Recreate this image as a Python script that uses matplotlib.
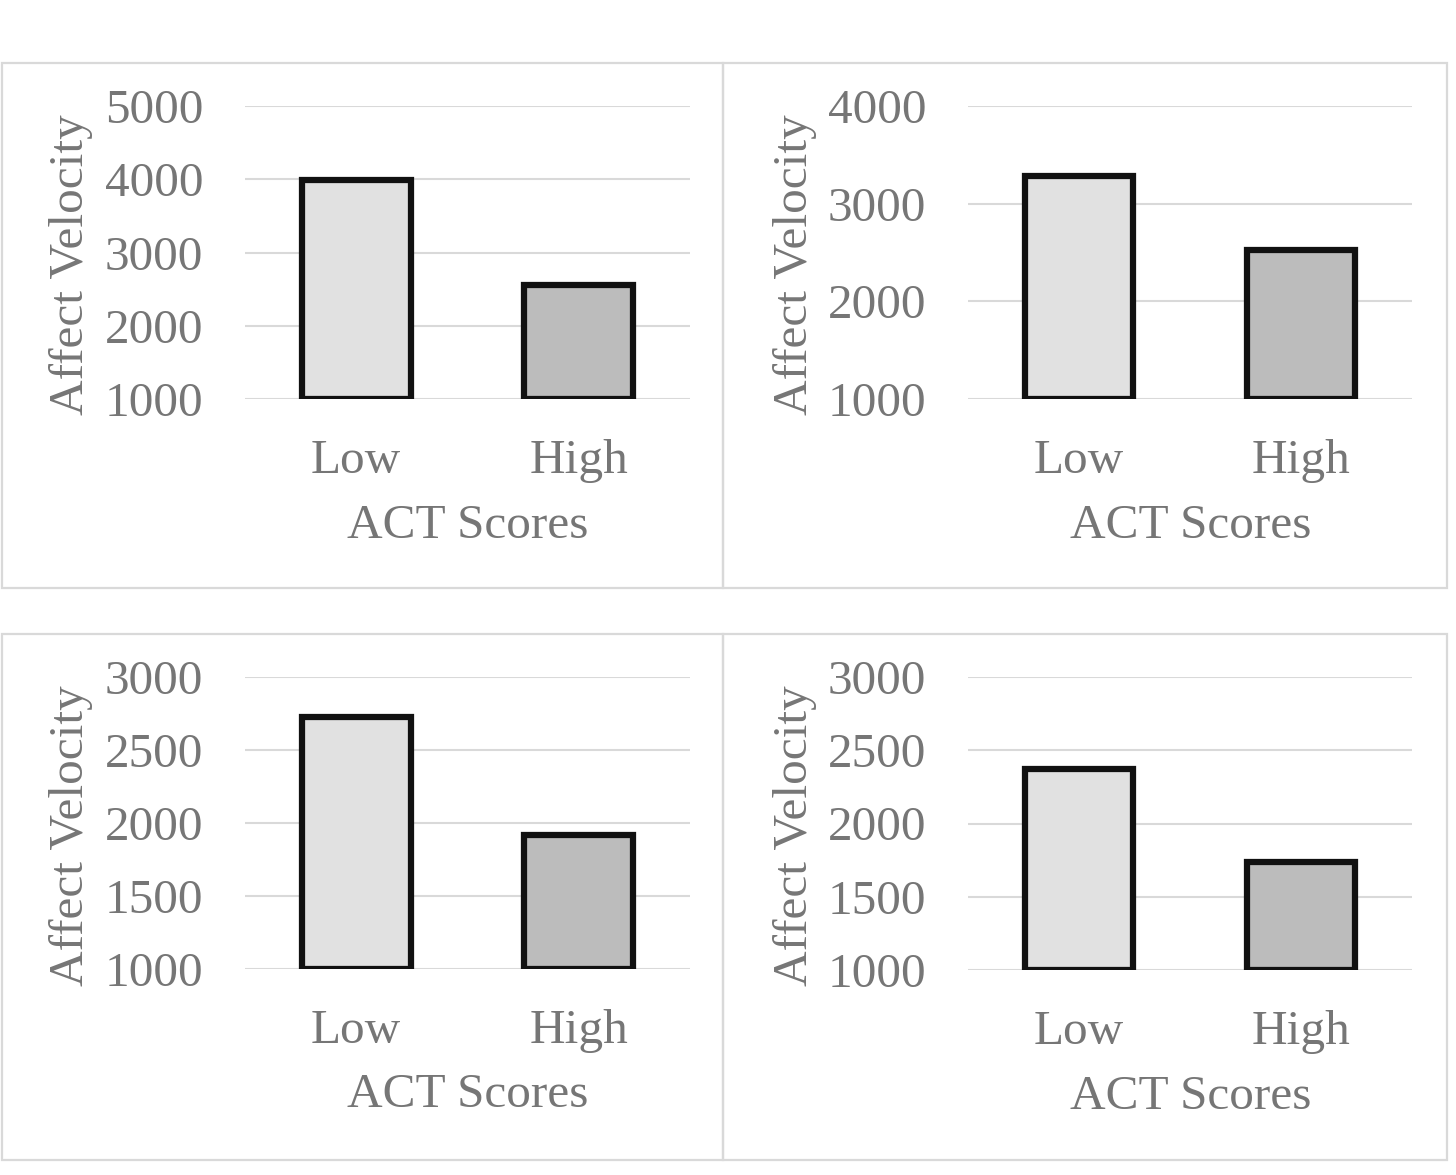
import matplotlib.pyplot as plt
from matplotlib.patches import Rectangle

categories = ["Low", "High"]
panel_values = [
    [3990, 2550],
    [3280, 2530],
    [2725, 1920],
    [2370, 1735],
]
panel_ticks = [
    [1000, 2000, 3000, 4000, 5000],
    [1000, 2000, 3000, 4000],
    [1000, 1500, 2000, 2500, 3000],
    [1000, 1500, 2000, 2500, 3000],
]
bar_colors = ["#e1e1e1", "#bcbcbc"]
ylabel = "Affect Velocity"
xlabel = "ACT Scores"

W, H = 1456, 1175
fig = plt.figure(figsize=(W / 100, H / 100), dpi=100)
plt.rcParams['font.family'] = ['Liberation Serif', 'DejaVu Serif']
txt = "#767676"

# panel frames (pixels: left, top, right, bottom)
frames = [(2, 63, 723, 588), (723, 63, 1447, 588), (2, 634, 723, 1160), (723, 634, 1447, 1160)]
for l, t, r, b in frames:
    fig.patches.append(Rectangle((l / W, 1 - b / H), (r - l) / W, (b - t) / H,
                                 transform=fig.transFigure, fill=False,
                                 edgecolor="#d9d9d9", linewidth=1.6))

# axes boxes in pixels: left, top, right, bottom
boxes = [(245, 106, 690, 399), (968, 106, 1412, 399), (245, 677, 690, 969), (968, 677, 1412, 970)]

for (l, t, r, b), vals, ticks in zip(boxes, panel_values, panel_ticks):
    ax = fig.add_axes([l / W, 1 - b / H, (r - l) / W, (b - t) / H])
    base = ticks[0]
    x = range(len(categories))
    ax.bar(x, [v - base for v in vals], bottom=base, width=0.49, color=bar_colors,
           edgecolor="#111111", linewidth=4.5, zorder=3)
    ax.set_xlim(-0.5, 1.5)
    ax.set_ylim(ticks[0], ticks[-1])
    ax.set_yticks(ticks)
    ax.set_xticks(list(x))
    ax.set_xticklabels(categories)
    ax.grid(axis="y", color="#d9d9d9", linewidth=1.5, zorder=0)
    ax.set_axisbelow(True)
    for s in ax.spines.values():
        s.set_visible(False)
    ax.tick_params(length=0, labelsize=35.5, labelcolor=txt)
    ax.tick_params(axis="y", pad=30)
    ax.tick_params(axis="x", pad=29)
    ax.set_ylabel(ylabel, fontsize=35.5, color=txt)
    ax.set_xlabel(xlabel, fontsize=35.5, color=txt)
    ax.yaxis.set_label_coords(-0.39, 0.457)
    ax.xaxis.set_label_coords(0.501, -0.433)
    ax.yaxis.label.set_va("center")
    ax.xaxis.label.set_va("center")

fig.savefig("out.png", dpi=100)
